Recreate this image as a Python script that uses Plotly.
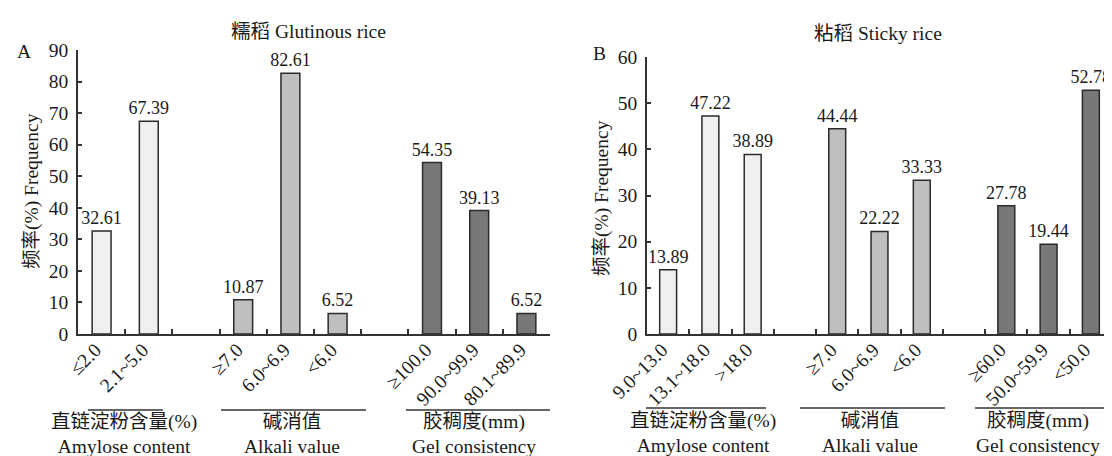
import plotly.graph_objects as go

# ---------------- data ----------------
cats_a = ["≤2.0", "2.1~5.0", "\u200b", "≥7.0", "6.0~6.9", "<6.0", "\u200b\u200b",
          "≥100.0", "90.0~99.9", "80.1~89.9"]
amylose_a_x = ["≤2.0", "2.1~5.0"]
amylose_a_y = [32.61, 67.39]
alkali_a_x = ["≥7.0", "6.0~6.9", "<6.0"]
alkali_a_y = [10.87, 82.61, 6.52]
gel_a_x = ["≥100.0", "90.0~99.9", "80.1~89.9"]
gel_a_y = [54.35, 39.13, 6.52]

cats_b = ["9.0~13.0", "13.1~18.0", ">18.0", "\u200b", "≥7.0", "6.0~6.9", "<6.0",
          "\u200b\u200b", "≥60.0", "50.0~59.9", "<50.0"]
amylose_b_x = ["9.0~13.0", "13.1~18.0", ">18.0"]
amylose_b_y = [13.89, 47.22, 38.89]
alkali_b_x = ["≥7.0", "6.0~6.9", "<6.0"]
alkali_b_y = [44.44, 22.22, 33.33]
gel_b_x = ["≥60.0", "50.0~59.9", "<50.0"]
gel_b_y = [27.78, 19.44, 52.78]

title_a = "糯稻 Glutinous rice"
title_b = "粘稻 Sticky rice"
ytitle = "频率(%) Frequency"
group_labels = ["直链淀粉含量(%)<br>Amylose content", "碱消值<br>Alkali value",
                "胶稠度(mm)<br>Gel consistency"]

# ---------------- style ----------------
W, H = 1112, 456
FONT = "Liberation Serif, Times New Roman, Noto Sans CJK SC, serif"
FS = 19.5
FS_VAL = 18
TXT = "#1a1a1a"
AX = "#333333"
C_AMY, C_ALK, C_GEL = "#efefef", "#bfbfbf", "#787878"


def px(x):
    return x / W


def py(y):
    return 1 - y / H


fig = go.Figure()


def add_bars(xs, ys, color, xa, ya):
    fig.add_trace(go.Bar(
        x=xs, y=ys, xaxis=xa, yaxis=ya, width=0.4,
        marker=dict(color=color, line=dict(color="#2a2a2a", width=1.5)),
        text=[f"{v:.2f}" for v in ys], textposition="outside",
        constraintext="none",
        textfont=dict(family=FONT, size=FS_VAL, color=TXT),
        cliponaxis=False, showlegend=False, hoverinfo="skip"))


# dummy traces to register every category (including blank slots)
fig.add_trace(go.Scatter(x=cats_a, y=[0] * len(cats_a), xaxis="x", yaxis="y",
                         mode="markers", marker=dict(opacity=0, size=1),
                         showlegend=False, hoverinfo="skip"))
fig.add_trace(go.Scatter(x=cats_b, y=[0] * len(cats_b), xaxis="x2", yaxis="y2",
                         mode="markers", marker=dict(opacity=0, size=1),
                         showlegend=False, hoverinfo="skip"))

add_bars(amylose_a_x, amylose_a_y, C_AMY, "x", "y")
add_bars(alkali_a_x, alkali_a_y, C_ALK, "x", "y")
add_bars(gel_a_x, gel_a_y, C_GEL, "x", "y")
add_bars(amylose_b_x, amylose_b_y, C_AMY, "x2", "y2")
add_bars(alkali_b_x, alkali_b_y, C_ALK, "x2", "y2")
add_bars(gel_b_x, gel_b_y, C_GEL, "x2", "y2")

xcommon = dict(type="category", categoryorder="array", tickson="boundaries",
               ticks="inside", ticklen=5, tickwidth=1.5, tickcolor=AX,
               showline=True, linecolor=AX, linewidth=1.5, tickangle=-45,
               showgrid=False, zeroline=False, automargin=False,
               ticklabelshift=-6, ticklabelstandoff=-5,
               tickfont=dict(family=FONT, size=FS, color=TXT))
ycommon = dict(ticks="inside", ticklen=4, tickwidth=1.5, tickcolor=AX,
               showline=True, linecolor=AX, linewidth=1.5, showgrid=False,
               zeroline=False, ticklabelstandoff=4, automargin=False,
               tickfont=dict(family=FONT, size=FS, color=TXT))

fig.update_layout(
    width=W, height=H, autosize=False,
    margin=dict(l=0, r=0, t=0, b=0),
    paper_bgcolor="white", plot_bgcolor="white",
    barmode="overlay",
    font=dict(family=FONT, size=FS, color=TXT),
    xaxis=dict(domain=[px(70), px(542)], anchor="y", categoryarray=cats_a,
               range=[-0.5, len(cats_a) - 0.5], **xcommon),
    yaxis=dict(domain=[py(326), py(42)], anchor="x", range=[0, 90], dtick=10,
               **ycommon),
    xaxis2=dict(domain=[px(639), px(1104)], anchor="y2", categoryarray=cats_b,
                range=[-0.5, len(cats_b) - 0.5], **xcommon),
    yaxis2=dict(domain=[py(326), py(49)], anchor="x2", range=[0, 60], dtick=10,
                **ycommon),
)

ann = []
# panel titles, letters, y titles
ann.append(dict(text=title_a, x=px(300), y=py(24)))
ann.append(dict(text=title_b, x=px(870), y=py(25)))
ann.append(dict(text="A", x=px(16), y=py(43)))
ann.append(dict(text="B", x=px(591), y=py(45)))
ann.append(dict(text=ytitle, x=px(24), y=py(183), textangle=-90))
ann.append(dict(text=ytitle, x=px(594), y=py(190), textangle=-90))

# group separator lines and labels
groups_a = [(80, 155, 116), (213, 358, 284), (398, 542, 466)]
groups_b = [(638, 758, 695), (792, 937, 862), (967, 1104, 1030)]
shapes = []
for (x0, x1, xc), lab in zip(groups_a, group_labels):
    shapes.append(dict(type="line", xref="paper", yref="paper", x0=px(x0), x1=px(x1),
                       y0=py(402), y1=py(402), line=dict(color=AX, width=1.5)))
    ann.append(dict(text=lab, x=px(xc), y=py(426)))
for (x0, x1, xc), lab in zip(groups_b, group_labels):
    shapes.append(dict(type="line", xref="paper", yref="paper", x0=px(x0), x1=px(x1),
                       y0=py(400), y1=py(400), line=dict(color=AX, width=1.5)))
    ann.append(dict(text=lab, x=px(xc), y=py(425)))

for a in ann:
    a.update(xref="paper", yref="paper", showarrow=False, xanchor="center",
             yanchor="middle", font=dict(family=FONT, size=FS, color=TXT))
fig.update_layout(annotations=ann, shapes=shapes)

fig.write_html("out.html")
